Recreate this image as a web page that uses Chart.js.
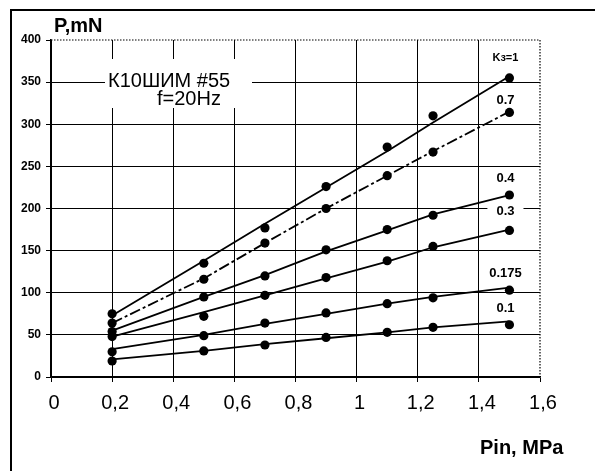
<!DOCTYPE html>
<html>
<head>
<meta charset="utf-8">
<script src="https://cdn.jsdelivr.net/npm/chart.js@4"></script>
<style>
  html, body { margin: 0; padding: 0; background: #fff; }
  #wrap { width: 595px; height: 471px; position: relative; }
</style>
</head>
<body>
<div id="wrap"><canvas id="c" width="595" height="471"></canvas></div>
<script>
// Inlet pressure, MPa
const pressure = [0.2, 0.5, 0.7, 0.9, 1.1, 1.25, 1.5];

// Series names (duty factor Kз)
const seriesNames = ['Kз=1', '0.7', '0.4', '0.3', '0.175', '0.1'];

// Measured thrust, mN
const thrustK100 = [75, 135, 177, 226, 273, 310, 355];
const thrustK070 = [64, 116, 159, 200, 239, 267, 314];
const thrustK040 = [54, 95, 120, 151, 175, 192, 216];
const thrustK030 = [48, 72, 97, 118, 138, 155, 174];
const thrustK0175 = [30, 49, 64, 76, 87, 94, 103];
const thrustK010 = [19, 31, 38, 47, 53, 59, 62];

// Trend lines through the measurements, mN
const trendK100 = [73, 138, 182, 225, 268, 302, 357];
const trendK070 = [64, 117, 159, 200, 239, 268, 315];
const trendK040 = [55, 95, 121, 149, 174, 193, 216];
const trendK030 = [48, 77, 97, 117, 137, 154, 175];
const trendK0175 = [33, 50, 63, 75, 87, 95, 106];
const trendK010 = [21, 31, 39, 46, 53, 59, 66];

// Axis tick labels
const xTickLabels = ['0', '0,2', '0,4', '0,6', '0,8', '1', '1,2', '1,4', '1,6'];
const yTickLabels = ['0', '50', '100', '150', '200', '250', '300', '350', '400'];

const measured = [thrustK100, thrustK070, thrustK040, thrustK030, thrustK0175, thrustK010];
const trends = [trendK100, trendK070, trendK040, trendK030, trendK0175, trendK010];
const dashes = [[], [11, 3, 3, 3], [], [], [], []];
// vertical offset of each series name above its last point, px
const nameLift = [20, 12, 17, 19, 17, 16];

const pts = arr => arr.map((v, i) => ({ x: pressure[i], y: v }));

const datasets = [];
trends.forEach((t, i) => {
  datasets.push({
    label: seriesNames[i] + ' trend',
    data: pts(t),
    borderColor: '#000',
    borderWidth: 1.8,
    borderDash: dashes[i],
    pointRadius: 0,
    tension: 0,
    fill: false
  });
});
measured.forEach((m, i) => {
  datasets.push({
    label: seriesNames[i],
    data: pts(m),
    showLine: false,
    pointRadius: 4.6,
    pointBackgroundColor: '#000',
    pointBorderColor: '#000',
    pointBorderWidth: 0
  });
});

const FONT = '"Liberation Sans", Arial, sans-serif';

const decorations = {
  id: 'decorations',
  beforeDraw(chart) {
    const ctx = chart.ctx;
    ctx.save();
    ctx.fillStyle = '#fff';
    ctx.fillRect(0, 0, chart.width, chart.height);
    ctx.restore();
  },
  beforeDatasetsDraw(chart) {
    const ctx = chart.ctx;
    const xs = chart.scales.x, ys = chart.scales.y;
    const a = chart.chartArea;
    ctx.save();
    // dotted top and right edges of the plot
    ctx.strokeStyle = '#000';
    ctx.lineWidth = 1.2;
    ctx.setLineDash([1.5, 1.5]);
    ctx.beginPath();
    ctx.moveTo(a.left, ys.getPixelForValue(400));
    ctx.lineTo(xs.getPixelForValue(1.6), ys.getPixelForValue(400));
    ctx.lineTo(xs.getPixelForValue(1.6), ys.getPixelForValue(0));
    ctx.stroke();
    ctx.setLineDash([]);

    // heading block over the grid
    ctx.fillStyle = '#fff';
    ctx.fillRect(105, 59, 147, 49);
    ctx.fillStyle = '#000';
    ctx.font = '20px ' + FONT;
    ctx.textBaseline = 'alphabetic';
    ctx.textAlign = 'left';
    ctx.fillText('К10ШИМ #55', 108, 87);
    ctx.fillText('f=20Hz', 157, 105);

    // series names near the last measurement
    ctx.textAlign = 'center';
    ctx.textBaseline = 'middle';
    const last = pressure.length - 1;
    seriesNames.forEach((name, i) => {
      const px = xs.getPixelForValue(pressure[last]) - 4;
      const py = ys.getPixelForValue(measured[i][last]) - nameLift[i];
      ctx.font = (i === 0 ? 'bold 11px ' : 'bold 13px ') + FONT;
      const w = ctx.measureText(name).width;
      if (name === '0.3') {
        ctx.fillStyle = '#fff';
        ctx.fillRect(px - w / 2 - 9, py - 7, w + 18, 14);
      }
      ctx.fillStyle = '#000';
      ctx.fillText(name, px, py);
    });
    ctx.restore();
  },
  afterDraw(chart) {
    const ctx = chart.ctx;
    ctx.save();
    // outer frame
    ctx.strokeStyle = '#000';
    ctx.lineWidth = 2;
    ctx.beginPath();
    ctx.moveTo(11, chart.height);
    ctx.lineTo(11, 10);
    ctx.lineTo(chart.width, 10);
    ctx.stroke();
    // axis titles
    ctx.fillStyle = '#000';
    ctx.font = 'bold 20px ' + FONT;
    ctx.textBaseline = 'alphabetic';
    ctx.textAlign = 'left';
    ctx.fillText('P,mN', 54, 32);
    ctx.fillText('Pin, MPa', 480, 454);
    ctx.restore();
  }
};

new Chart(document.getElementById('c'), {
  type: 'line',
  data: { datasets },
  plugins: [decorations],
  options: {
    responsive: false,
    animation: false,
    events: [],
    layout: { padding: { left: 0, top: 40, right: 55, bottom: 0 } },
    plugins: { legend: { display: false }, tooltip: { enabled: false }, title: { display: false } },
    scales: {
      x: {
        type: 'linear',
        min: 0, max: 1.6,
        afterFit(s) { s.height = 94; },
        afterBuildTicks(s) { s.ticks = xTickLabels.map((_, i) => ({ value: i * 0.2 })); },
        ticks: {
          color: '#000',
          font: { family: FONT, size: 20 },
          padding: 9,
          labelOffset: 3,
          maxRotation: 0,
          autoSkip: false,
          callback: (v, i) => xTickLabels[i]
        },
        grid: {
          color: c => (c.index === xTickLabels.length - 1 ? 'rgba(0,0,0,0)' : '#000'),
          lineWidth: 1,
          tickLength: 5,
          tickColor: '#000'
        },
        border: { display: true, color: '#000', width: 1.5 }
      },
      y: {
        type: 'linear',
        min: 0, max: 400,
        afterFit(s) { s.width = 51; },
        afterBuildTicks(s) { s.ticks = yTickLabels.map((_, i) => ({ value: i * 50 })); },
        ticks: {
          color: '#000',
          font: { family: FONT, size: 12, weight: 'bold' },
          padding: 5,
          autoSkip: false,
          callback: (v, i) => yTickLabels[i]
        },
        grid: {
          color: c => (c.index === yTickLabels.length - 1 ? 'rgba(0,0,0,0)' : '#000'),
          lineWidth: 1,
          tickLength: 5,
          tickColor: '#000'
        },
        border: { display: true, color: '#000', width: 1.5 }
      }
    }
  }
});
</script>
</body>
</html>
